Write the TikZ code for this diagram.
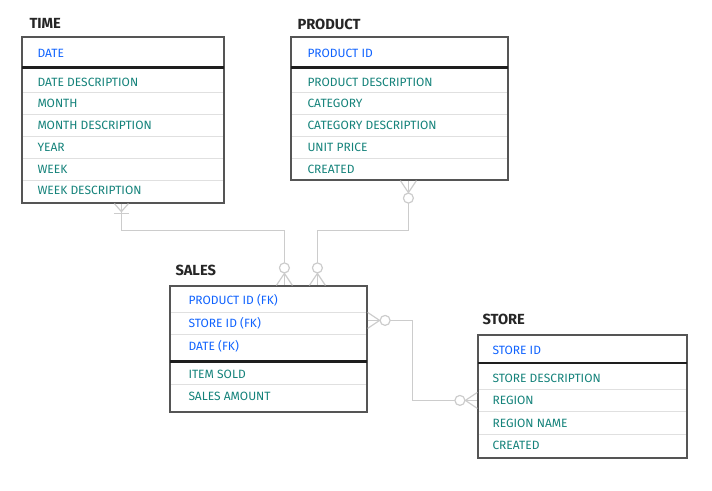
\documentclass[tikz,border=0pt]{standalone}
\usepackage{fontspec}
\setmainfont{Fira Sans}
\usepackage{color}
\usepackage{tikz}
\usetikzlibrary{fit,calc}
\tikzset{every picture/.style={line width=0.75pt}}
\tikzset{
  tbl/.style={draw={rgb, 255:red, 85; green, 85; blue, 85 }, line width=0.9pt, inner sep=0pt},
  ttl/.style={anchor=west, inner sep=0pt, text={rgb, 255:red, 38; green, 38; blue, 38 }, font=\fontsize{11}{13}\selectfont\bfseries},
  keytxt/.style={anchor=west, inner sep=0pt, text={rgb, 255:red, 15; green, 98; blue, 254 }, font=\fontsize{9}{11}\selectfont},
  attrtxt/.style={anchor=west, inner sep=0pt, text={rgb, 255:red, 20; green, 130; blue, 122 }, font=\fontsize{9}{11}\selectfont},
  rowline/.style={draw={rgb, 255:red, 224; green, 224; blue, 224 }, line width=0.75pt},
  keyline/.style={draw={rgb, 255:red, 30; green, 30; blue, 30 }, line width=1.6pt},
  rel/.style={draw={rgb, 255:red, 204; green, 204; blue, 204 }, line width=0.9pt},
  zeromany/.pic={
    \draw [rel] (0,-8) -- (12,0) -- (0,8) ;
    \draw [rel, fill=white] (17.5,0) circle [radius=5] ;
  },
  onemany/.pic={
    \draw [rel] (0,-7) -- (8,0) -- (0,7) ;
    \draw [rel] (10,-7.5) -- (10,7.5) ;
  }
}

\begin{document}
\begin{tikzpicture}[x=0.75pt,y=0.75pt,yscale=-1,xscale=1]
\path [use as bounding box] (0,0) rectangle (712,490);

%Shape: Rectangle (TIME)
\node [tbl, fit={(22,37) (224,203)}] (time) {};
\draw [keyline] (22,67.5) -- (224,67.5) ;
\foreach \y in {92,114,136,158,180} {
  \draw [rowline] (23,\y) -- (223,\y) ;
}

%Shape: Rectangle (PRODUCT)
\node [tbl, fit={(291,37) (508,180)}] (product) {};
\draw [keyline] (291,67.5) -- (508,67.5) ;
\foreach \y in {92,114,136,158} {
  \draw [rowline] (292,\y) -- (507,\y) ;
}

%Shape: Rectangle (SALES)
\node [tbl, fit={(170,286) (367,412)}] (sales) {};
\draw [keyline] (170,361.5) -- (367,361.5) ;
\foreach \y in {312,334,384} {
  \draw [rowline] (171,\y) -- (366,\y) ;
}

%Shape: Rectangle (STORE)
\node [tbl, fit={(478,335) (687,458)}] (store) {};
\draw [keyline] (478,363) -- (687,363) ;
\foreach \y in {389,411,434} {
  \draw [rowline] (479,\y) -- (686,\y) ;
}

% Text Node
\node [ttl] (time-title) at (29,23) {TIME};
\node [keytxt] (time-date) at (37,53) {DATE};
\node [attrtxt] (time-datedesc) at (37,82) {DATE DESCRIPTION};
\node [attrtxt] (time-month) at (37,103.5) {MONTH};
\node [attrtxt] (time-monthdesc) at (37,125) {MONTH DESCRIPTION};
\node [attrtxt] (time-year) at (37,147) {YEAR};
\node [attrtxt] (time-week) at (37,169) {WEEK};
\node [attrtxt] (time-weekdesc) at (37,190.5) {WEEK DESCRIPTION};

% Text Node
\node [ttl] (product-title) at (297,24) {PRODUCT};
\node [keytxt] (product-id) at (307,53) {PRODUCT ID};
\node [attrtxt] (product-desc) at (307,82) {PRODUCT DESCRIPTION};
\node [attrtxt] (product-cat) at (307,103.5) {CATEGORY};
\node [attrtxt] (product-catdesc) at (307,125) {CATEGORY DESCRIPTION};
\node [attrtxt] (product-price) at (307,147) {UNIT PRICE};
\node [attrtxt] (product-created) at (307,169) {CREATED};

% Text Node
\node [ttl] (sales-title) at (175,270) {SALES};
\node [keytxt] (sales-product) at (188,300) {PRODUCT ID (FK)};
\node [keytxt] (sales-store) at (188,323) {STORE ID (FK)};
\node [keytxt] (sales-date) at (188,346) {DATE (FK)};
\node [attrtxt] (sales-items) at (188,374) {ITEM SOLD};
\node [attrtxt] (sales-amount) at (188,396.5) {SALES AMOUNT};

% Text Node
\node [ttl] (store-title) at (482,319) {STORE};
\node [keytxt] (store-id) at (492,350) {STORE ID};
\node [attrtxt] (store-desc) at (492,378) {STORE DESCRIPTION};
\node [attrtxt] (store-region) at (492,400.5) {REGION};
\node [attrtxt] (store-regname) at (492,423) {REGION NAME};
\node [attrtxt] (store-created) at (492,445.5) {CREATED};

%Connector ends
\coordinate (time-end) at ($(time.south west)+(100,0)$);
\coordinate (product-end) at ($(product.south west)+(118,0)$);
\coordinate (sales-end1) at ($(sales.north west)+(115,0)$);
\coordinate (sales-end2) at ($(sales.north west)+(148,0)$);
\coordinate (sales-end3) at ($(sales.north east)+(0,35)$);
\coordinate (store-end) at ($(store.north west)+(0,66)$);

%Straight Lines
\draw [rel] (time-end) -- ++(0,27) -| (sales-end1) ;
\draw [rel] (product-end) -- ++(0,50) -| (sales-end2) ;
\draw [rel] (sales-end3) -- ++(45,0) |- (store-end) ;

%Relationship ends
\pic [rotate=-90] at (time-end) {onemany};
\pic [rotate=-90] at (product-end) {zeromany};
\pic [rotate=90] at (sales-end1) {zeromany};
\pic [rotate=90] at (sales-end2) {zeromany};
\pic at (sales-end3) {zeromany};
\pic [rotate=180] at (store-end) {zeromany};

\end{tikzpicture}
\end{document}
